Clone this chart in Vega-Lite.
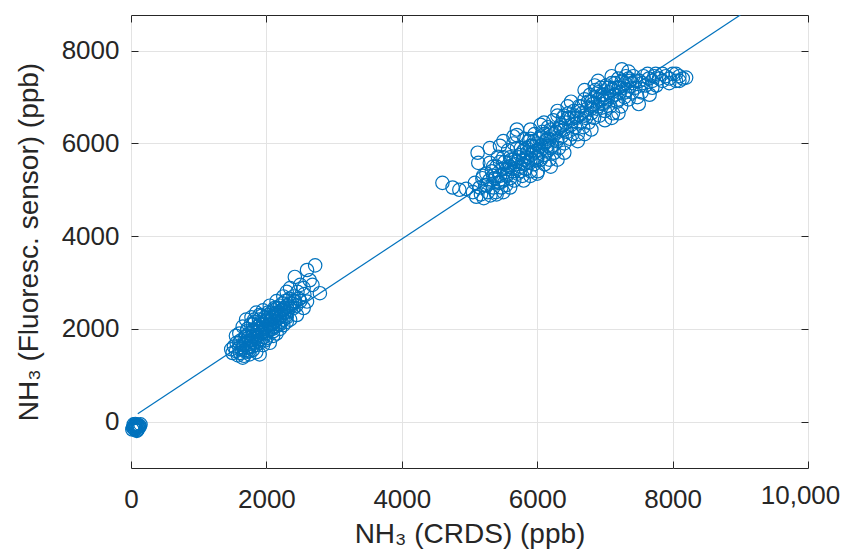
{
  "$schema": "https://vega.github.io/schema/vega-lite/v6.json",
  "width": 677,
  "height": 453,
  "autosize": {"type": "none"},
  "padding": {"left": 131, "top": 15, "right": 33, "bottom": 85},
  "background": "white",
  "config": {"view": {"stroke": "#262626", "strokeWidth": 1}, "font": "Liberation Sans"},
  "datasets": {
    "pts": [
      {"x":30,"y":-130},{"x":50,"y":-100},{"x":60,"y":-170},{"x":80,"y":-70},{"x":100,"y":-120},{"x":120,"y":-80},{"x":90,"y":-180},{"x":40,"y":-60},{"x":70,"y":-110},{"x":110,"y":-150},{"x":130,"y":-100},{"x":55,"y":-80},{"x":140,"y":-60},{"x":20,"y":-170},{"x":75,"y":-140},{"x":95,"y":-70},{"x":45,"y":-150},{"x":115,"y":-110},{"x":65,"y":-50},{"x":85,"y":-200},
      {"x":1480,"y":1560},{"x":1500,"y":1480},{"x":1520,"y":1620},{"x":1550,"y":1520},{"x":1560,"y":1700},{"x":1580,"y":1430},{"x":1600,"y":1600},{"x":1610,"y":1480},{"x":1620,"y":1750},{"x":1640,"y":1560},{"x":1650,"y":2050},{"x":1660,"y":1660},{"x":1670,"y":1420},{"x":1680,"y":1820},{"x":1690,"y":1540},{"x":1700,"y":1700},{"x":1710,"y":1950},{"x":1720,"y":1600},{"x":1730,"y":1800},{"x":1740,"y":1520},{"x":1750,"y":1900},{"x":1760,"y":1680},{"x":1770,"y":2100},{"x":1780,"y":1760},{"x":1790,"y":1620},{"x":1800,"y":1850},{"x":1810,"y":1980},{"x":1820,"y":1700},{"x":1830,"y":2150},{"x":1840,"y":1800},{"x":1850,"y":1650},{"x":1860,"y":1950},{"x":1870,"y":2050},{"x":1880,"y":1750},{"x":1890,"y":2200},{"x":1900,"y":1880},{"x":1910,"y":2000},{"x":1920,"y":1780},{"x":1930,"y":2280},{"x":1940,"y":1920},{"x":1950,"y":2100},{"x":1960,"y":1820},{"x":1970,"y":2000},{"x":1980,"y":2250},{"x":1990,"y":1900},{"x":2000,"y":2050},{"x":2010,"y":2180},{"x":2020,"y":1950},{"x":2030,"y":2300},{"x":2040,"y":2080},{"x":2050,"y":1980},{"x":2060,"y":2200},{"x":2070,"y":2350},{"x":2080,"y":2100},{"x":2090,"y":2000},{"x":2100,"y":2250},{"x":2110,"y":2400},{"x":2120,"y":2150},{"x":2130,"y":2050},{"x":2140,"y":2300},{"x":2150,"y":2200},{"x":2160,"y":2450},{"x":2170,"y":2100},{"x":2180,"y":2350},{"x":2190,"y":2250},{"x":2200,"y":2500},{"x":2210,"y":2150},{"x":2220,"y":2400},{"x":2230,"y":2300},{"x":2240,"y":2550},{"x":2250,"y":2200},{"x":2260,"y":2450},{"x":2270,"y":2350},{"x":2280,"y":2600},{"x":2290,"y":2280},{"x":2300,"y":2500},{"x":2320,"y":2400},{"x":2340,"y":2650},{"x":2360,"y":2480},{"x":2380,"y":2550},{"x":2400,"y":2700},{"x":2420,"y":2600},{"x":2440,"y":2500},{"x":2460,"y":2800},{"x":2480,"y":2650},{"x":2350,"y":2880},{"x":2420,"y":3120},{"x":2550,"y":2880},{"x":2600,"y":3270},{"x":2640,"y":3050},{"x":2720,"y":3370},{"x":2790,"y":2770},{"x":2600,"y":2590},{"x":2420,"y":2590},{"x":2500,"y":2950},{"x":2560,"y":2750},{"x":2680,"y":2950},
      {"x":1550,"y":1850},{"x":1600,"y":1900},{"x":1700,"y":2200},{"x":1780,"y":2250},{"x":1850,"y":2350},{"x":1950,"y":2400},{"x":2050,"y":2500},{"x":2150,"y":2600},{"x":2250,"y":2700},{"x":2300,"y":2800},{"x":1650,"y":1380},{"x":1750,"y":1450},{"x":1850,"y":1500},{"x":1900,"y":1450},{"x":1950,"y":1650},{"x":2050,"y":1700},{"x":2150,"y":1900},{"x":2250,"y":2080},{"x":2350,"y":2200},{"x":2450,"y":2300},{"x":2550,"y":2450},{"x":2500,"y":2600},{"x":2000,"y":1800},{"x":2100,"y":1850},{"x":1800,"y":2100},{"x":1900,"y":2300},{"x":2200,"y":2000},{"x":2300,"y":2150},
      {"x":1600,"y":1700},{"x":1650,"y":1600},{"x":1700,"y":1850},{"x":1750,"y":1750},{"x":1800,"y":1950},{"x":1850,"y":1850},{"x":1900,"y":2100},{"x":1950,"y":1950},{"x":2000,"y":2200},{"x":2050,"y":2100},{"x":2100,"y":2050},{"x":2150,"y":2350},{"x":2200,"y":2250},{"x":2250,"y":2400},{"x":2300,"y":2350},{"x":2350,"y":2550},{"x":2400,"y":2450},{"x":1700,"y":1500},{"x":1750,"y":1600},{"x":1800,"y":1550},{"x":1900,"y":1700},{"x":1980,"y":1750},{"x":2100,"y":1950},{"x":2200,"y":2100},{"x":2300,"y":2250},{"x":1720,"y":2000},{"x":1820,"y":2200},{"x":1920,"y":2150},{"x":2020,"y":2350},{"x":2120,"y":2450},
      {"x":4600,"y":5150},{"x":4750,"y":5050},{"x":4850,"y":5000},{"x":4950,"y":5020},
      {"x":5050,"y":4950},{"x":5080,"y":5150},{"x":5100,"y":4850},{"x":5120,"y":5800},{"x":5130,"y":5580},{"x":5150,"y":5050},{"x":5170,"y":4900},{"x":5190,"y":5250},{"x":5210,"y":4820},{"x":5230,"y":5100},{"x":5250,"y":5350},{"x":5270,"y":4950},{"x":5290,"y":5200},{"x":5300,"y":5580},{"x":5310,"y":4880},{"x":5330,"y":5400},{"x":5350,"y":5050},{"x":5370,"y":5250},{"x":5390,"y":4950},{"x":5400,"y":5500},{"x":5420,"y":5710},{"x":5430,"y":5150},{"x":5450,"y":5300},{"x":5470,"y":5050},{"x":5490,"y":5450},{"x":5500,"y":5200},{"x":5520,"y":5600},{"x":5540,"y":5100},{"x":5560,"y":5350},{"x":5570,"y":5850},{"x":5580,"y":5500},{"x":5600,"y":5250},{"x":5620,"y":5650},{"x":5640,"y":5400},{"x":5650,"y":6000},{"x":5660,"y":5200},{"x":5680,"y":5550},{"x":5700,"y":6180},{"x":5710,"y":5350},{"x":5730,"y":5700},{"x":5750,"y":5500},{"x":5760,"y":5900},{"x":5780,"y":5300},{"x":5800,"y":5650},{"x":5810,"y":6100},{"x":5830,"y":5450},{"x":5850,"y":5800},{"x":5860,"y":5600},{"x":5880,"y":6050},{"x":5900,"y":5400},{"x":5910,"y":5750},{"x":5930,"y":5950},{"x":5950,"y":5550},{"x":5960,"y":6200},{"x":5980,"y":5700},{"x":6000,"y":5850},{"x":6010,"y":5400},{"x":6030,"y":6100},{"x":6050,"y":5650},{"x":6060,"y":5950},{"x":6080,"y":6250},{"x":6100,"y":5750},{"x":6110,"y":5550},{"x":6130,"y":6050},{"x":6150,"y":5850},{"x":6160,"y":6350},{"x":6180,"y":5650},{"x":6200,"y":6150},{"x":6220,"y":5950},{"x":6240,"y":6500},{"x":6250,"y":5800},{"x":6270,"y":6250},{"x":6290,"y":6050},{"x":6300,"y":6600},{"x":6320,"y":5900},{"x":6340,"y":6350},{"x":6360,"y":6150},{"x":6380,"y":6550},{"x":6400,"y":6000},{"x":6420,"y":6450},{"x":6440,"y":6250},{"x":6460,"y":6650},{"x":6480,"y":6100},{"x":6500,"y":6400},{"x":6520,"y":6200},{"x":6540,"y":6700},{"x":6560,"y":6350},{"x":6580,"y":6550},{"x":6600,"y":6200},{"x":6620,"y":6800},{"x":6640,"y":6450},{"x":6660,"y":6650},{"x":6680,"y":6350},{"x":6700,"y":6950},{"x":6720,"y":6550},{"x":6740,"y":6750},{"x":6760,"y":6450},{"x":6780,"y":7050},{"x":6800,"y":6650},{"x":6820,"y":6850},{"x":6840,"y":6550},{"x":6860,"y":7150},{"x":6880,"y":6750},{"x":6900,"y":6950},{"x":6920,"y":6600},{"x":6940,"y":7200},{"x":6960,"y":6850},{"x":6980,"y":7050},{"x":7000,"y":6700},{"x":7020,"y":7250},{"x":7040,"y":6950},{"x":7060,"y":7100},{"x":7080,"y":6800},{"x":7100,"y":7300},{"x":7120,"y":6650},{"x":7140,"y":7050},{"x":7160,"y":7200},{"x":7180,"y":6900},{"x":7200,"y":7400},{"x":7220,"y":7100},{"x":7240,"y":6800},{"x":7250,"y":7600},{"x":7270,"y":7250},{"x":7290,"y":7000},{"x":7310,"y":7450},{"x":7330,"y":7150},{"x":7350,"y":6950},{"x":7370,"y":7350},{"x":7400,"y":7100},{"x":7420,"y":7450},{"x":7450,"y":7200},{"x":7480,"y":7000},{"x":7510,"y":7350},{"x":7540,"y":7100},{"x":7570,"y":7450},{"x":7600,"y":7250},{"x":7630,"y":7500},{"x":7660,"y":7050},{"x":7700,"y":7350},{"x":7730,"y":7450},{"x":7760,"y":7250},{"x":7800,"y":7400},{"x":7850,"y":7350},{"x":7900,"y":7450},{"x":7950,"y":7400},{"x":8000,"y":7500},{"x":8050,"y":7350},{"x":8100,"y":7450},{"x":8150,"y":7400},{"x":8200,"y":7420},
      {"x":5600,"y":5700},{"x":5700,"y":5900},{"x":5750,"y":5750},{"x":5850,"y":5900},{"x":5900,"y":6100},{"x":5950,"y":5800},{"x":6000,"y":6000},{"x":6050,"y":6150},{"x":6100,"y":6000},{"x":6150,"y":6100},{"x":6200,"y":5900},{"x":6250,"y":6200},{"x":6300,"y":6100},{"x":6350,"y":6400},{"x":6400,"y":6300},{"x":5800,"y":5550},{"x":5900,"y":5650},{"x":6000,"y":5650},{"x":5650,"y":5450},{"x":5550,"y":5450},{"x":7000,"y":6900},{"x":7100,"y":7000},{"x":6900,"y":6800},{"x":6800,"y":6900},{"x":7200,"y":7200},{"x":7300,"y":7300},
      {"x":5300,"y":5900},{"x":5500,"y":6050},{"x":5700,"y":6300},{"x":5900,"y":6300},{"x":6100,"y":6450},{"x":6300,"y":6700},{"x":6500,"y":6900},{"x":6700,"y":7150},{"x":6900,"y":7350},{"x":7100,"y":7450},{"x":7350,"y":7550},{"x":5450,"y":5950},{"x":5650,"y":6150},{"x":6050,"y":6400},{"x":6450,"y":6800},{"x":6850,"y":7250},
      {"x":5400,"y":4900},{"x":5600,"y":5050},{"x":5800,"y":5200},{"x":6000,"y":5350},{"x":6200,"y":5500},{"x":6400,"y":5800},{"x":6600,"y":6050},{"x":6800,"y":6300},{"x":7000,"y":6500},{"x":7200,"y":6650},{"x":7500,"y":6850},{"x":5500,"y":4950},{"x":5900,"y":5300},{"x":6300,"y":5650},{"x":6700,"y":6200},{"x":7100,"y":6550},
      {"x":5200,"y":5300},{"x":5350,"y":5500},{"x":5450,"y":5600},{"x":6450,"y":6550},{"x":6550,"y":6600},{"x":6650,"y":6800},{"x":6750,"y":6900},{"x":6850,"y":7000},{"x":6950,"y":7050},{"x":7050,"y":7200},{"x":7150,"y":7300},{"x":7250,"y":7350},{"x":7350,"y":7400},{"x":7450,"y":7350},{"x":7550,"y":7300},{"x":7650,"y":7400},{"x":7750,"y":7500},{"x":7850,"y":7500},{"x":7950,"y":7300},{"x":8050,"y":7500},{"x":8100,"y":7350},{"x":7700,"y":7200},
      {"x":5500,"y":5700},{"x":5600,"y":5500},{"x":5700,"y":5600},{"x":5800,"y":5850},{"x":5900,"y":5950},{"x":6000,"y":5700},{"x":6100,"y":6200},{"x":6200,"y":6300},{"x":6300,"y":6300},{"x":6400,"y":6600},{"x":6500,"y":6550},{"x":6600,"y":6700},{"x":6700,"y":6600},{"x":6800,"y":6750},{"x":6900,"y":7100},{"x":7000,"y":7000},{"x":7100,"y":7150},{"x":7200,"y":6950},{"x":7300,"y":7100},{"x":7400,"y":7300},{"x":5350,"y":5300},{"x":5250,"y":5100},{"x":5450,"y":5150},{"x":5550,"y":5300},{"x":5650,"y":5650},{"x":5750,"y":5400},{"x":5850,"y":5700},{"x":5950,"y":6050},{"x":6050,"y":5850},{"x":6150,"y":5950}
    ],
    "fit": [{"x": 100, "y": 170}, {"x": 9000, "y": 8770}]
  },
  "layer": [
    {
      "data": {"name": "pts"},
      "mark": {"type": "point", "shape": "circle", "filled": false, "color": "#0072BD", "size": 180, "strokeWidth": 1.2, "opacity": 1},
      "encoding": {
        "x": {
          "field": "x", "type": "quantitative",
          "scale": {"domain": [0, 10000], "nice": false, "zero": false},
          "axis": {
            "orient": "bottom",
            "values": [0, 2000, 4000, 6000, 8000, 10000],
            "format": "d",
            "labelExpr": "datum.value == 10000 ? '10,000' : datum.label",
            "labelFlush": false, "labelOverlap": false, "labelBound": false,
            "labelFont": "Liberation Sans", "labelFontSize": 26, "labelColor": "#262626",
            "labelPadding": {"condition": {"test": "datum.value == 10000", "value": 21}, "value": 25},
            "labelOffset": {"condition": {"test": "datum.value == 10000", "value": -8}, "value": 0},
            "tickSize": -7, "tickColor": "#262626", "tickWidth": 1,
            "domain": false,
            "grid": true, "gridColor": "#e3e3e3", "gridWidth": 1,
            "title": "NH₃ (CRDS) (ppb)",
            "titleFont": "Liberation Sans", "titleFontSize": 28, "titleFontWeight": "normal", "titleColor": "#262626", "titlePadding": 8
          }
        },
        "y": {
          "field": "y", "type": "quantitative",
          "scale": {"domain": [-1000, 8770], "nice": false, "zero": false},
          "axis": {
            "orient": "left",
            "values": [0, 2000, 4000, 6000, 8000],
            "format": "d",
            "labelFlush": false, "labelOverlap": false, "labelBound": false,
            "labelFont": "Liberation Sans", "labelFontSize": 26, "labelColor": "#262626",
            "labelPadding": 19,
            "tickSize": -7, "tickColor": "#262626", "tickWidth": 1,
            "domain": false,
            "grid": true, "gridColor": "#e3e3e3", "gridWidth": 1,
            "title": "NH₃ (Fluoresc. sensor) (ppb)",
            "titleFont": "Liberation Sans", "titleFontSize": 28, "titleFontWeight": "normal", "titleColor": "#262626", "titlePadding": 18
          }
        }
      }
    },
    {
      "data": {"name": "fit"},
      "mark": {"type": "line", "color": "#0072BD", "strokeWidth": 1.2, "clip": true},
      "encoding": {
        "x": {
          "field": "x", "type": "quantitative",
          "axis": {"orient": "top", "values": [0, 2000, 4000, 6000, 8000, 10000], "labels": false, "title": null, "grid": false, "domain": false, "tickSize": -7, "tickColor": "#262626"}
        },
        "y": {
          "field": "y", "type": "quantitative",
          "axis": {"orient": "right", "values": [0, 2000, 4000, 6000, 8000], "labels": false, "title": null, "grid": false, "domain": false, "tickSize": -7, "tickColor": "#262626"}
        }
      }
    }
  ],
  "resolve": {"axis": {"x": "independent", "y": "independent"}}
}
